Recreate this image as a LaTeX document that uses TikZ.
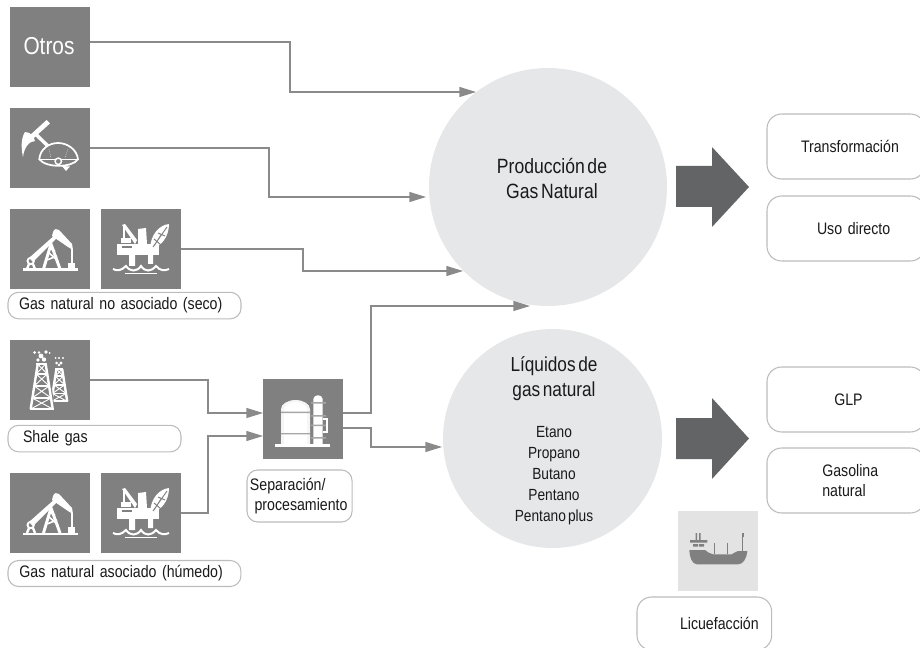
\documentclass[tikz,border=0pt]{standalone}
\usepackage{fontspec}
\setmainfont[FakeStretch=0.85,WordSpace=0.55]{Liberation Sans}
\usetikzlibrary{arrows.meta}
\definecolor{sq}{HTML}{808080}
\definecolor{linec}{HTML}{8A8A8A}
\definecolor{circ}{HTML}{E6E7E8}
\definecolor{bigarr}{HTML}{636466}
\definecolor{boxl}{HTML}{BCBCBC}
\definecolor{txt}{HTML}{1A1A1A}
\tikzset{
  every node/.style={outer sep=0pt},
  tile/.style={fill=sq,draw=none,minimum size=60pt,inner sep=0pt,anchor=north west},
  flow/.style={draw=linec,line width=1pt,-{Triangle[length=12.5pt,width=7.5pt,fill=linec]}},
  disc/.style={circle,fill=circ,draw=none,inner sep=0pt},
  pill/.style={rectangle,rounded corners=8pt,draw=boxl,line width=0.8pt,fill=white,anchor=north west,text=txt,font=\fontsize{12.5pt}{15.5pt}\selectfont,align=left,inner ysep=0pt},
  lbl/.style={text=txt,align=center,inner sep=0pt},
  wl/.style={draw=white,line width=1.9pt},
  wt/.style={draw=white,line width=0.9pt},
  pump/.pic={
    \fill[white] (12.5,59.5) rectangle (68,62);
    \fill[white] (43,23) .. controls (44,20) and (47,19) .. (49,21) -- (62,35) -- (63,41) -- (58,38) -- (42,27) -- cycle;
    \fill[white] (19,49) -- (46,25) -- (48,28) -- (23,53) -- cycle;
    \draw[wl,line width=2.2pt] (33.5,60) -- (41,35) -- (50,60);
    \draw[wt,line width=1.2pt] (37,51) -- (47,47) (38,43) -- (48,52) (39,39) -- (45,42);
    \draw[wt] (62,40) -- (62,54);
    \fill[white] (58.3,54) rectangle (65,59.5);
    \draw[wl,line width=1.4pt] (20.7,52) circle (3.2);
    \draw[wl,line width=1.8pt] (19,55) -- (17,60) (23,55) -- (25,60);
  },
  rig/.pic={
    \fill[white] (16,35) -- (58,35) -- (58,46) -- (16,46) -- cycle;
    \fill[sq] (21,37) rectangle (31,39);
    \fill[white] (28,46) rectangle (34,57) (47,46) rectangle (52,55);
    \fill[white] (37,20) -- (45,19) -- (46,35) -- (37,35) -- cycle;
    \fill[white] (21,16) -- (24,15) -- (36,31) -- (34,35) -- cycle;
    \draw[wt] (23,18) -- (23,30);
    \fill[white] (20,29) rectangle (30,34);
    \fill[white] (68,15) .. controls (58,16) and (49,26) .. (49,41) .. controls (60,38) and (68,28) .. (68,15) -- cycle;
    \draw[sq,line width=0.7pt] (66,18) -- (52,38) (57,24) -- (64,27) (53,30) -- (60,36) (53,37) -- (60,26);
    \draw[wl,line width=1.5pt] (12,60) .. controls (16,62) and (20,62) .. (25,57) .. controls (29,63) and (36,63) .. (40,57) .. controls (44,63) and (50,63) .. (55,57) .. controls (59,62) and (64,62) .. (68,60);
    \draw[wl,line width=1.2pt] (24,64.5) -- (56,64.5);
  },
  mine/.pic={
    \draw[white,line width=3.6pt] (38.3,13.7) -- (22,28.5);
    \fill[white] (15,24) .. controls (21,24) and (24,29) .. (25,33) .. controls (19,33) and (14,40) .. (13,49) .. controls (11,40) and (11,30) .. (15,24) -- cycle;
    \draw[white,line width=2.6pt] (25,25.5) -- (40,40);
    \fill[sq] (29,51.5) .. controls (30,41) and (39,35) .. (48,35) .. controls (58,35) and (67,42) .. (68,51.5) -- cycle;
    \draw[wl,line width=1.3pt] (29.3,51.3) .. controls (30,41) and (39,35) .. (48,35) .. controls (58,35) and (67,42) .. (68,51.3) .. controls (62,60) and (36,60) .. (29.3,51.3) -- cycle;
    \draw[wl,line width=1.1pt] (29.3,51.3) -- (68,51.3);
    \fill[sq] (48.3,53.3) circle (3.4);
    \draw[wl,line width=1.1pt] (48.3,53.3) circle (3.2);
    \draw[wt,line width=0.4pt,densely dotted] (39,41) -- (41,50) (58,41) -- (55,50);
    \fill[white] (52,58) -- (60,58.5) -- (56,63) -- cycle;
  },
  derrick/.pic={
    \draw[white,line width=1.8pt] (-4,0) -- (-11,45) (4,0) -- (11,45);
    \draw[white,line width=1.4pt] (-5.5,0) -- (5.5,0) (-6,10) -- (6,10) (-8,22) -- (8,22) (-10,34) -- (10,34) (-12,45) -- (12,45);
    \draw[white,line width=0.7pt] (-5.5,10) -- (7.5,22) (5.5,10) -- (-7.5,22) (-7.5,22) -- (9.5,34) (7.5,22) -- (-9.5,34) (-9.5,34) -- (11,45) (9.5,34) -- (-11,45) (-4,0) -- (5.5,10) (4,0) -- (-5.5,10);
  },
  shaleicon/.pic={
    \pic[scale=0.72] at (49.3,29) {derrick};
    \fill[sq] (24,24) -- (39,24) -- (44.5,69) -- (19,69) -- cycle;
    \pic at (31.7,24) {derrick};
    \fill[white] (24.5,12.5) circle (1.5) (29,12.5) circle (1.3) (36,12) circle (1.9) (31,16) circle (2.4) (34,19.5) circle (2.2) (28,20) circle (1.8) (39.5,13) circle (1);
    \fill[white] (45.5,18) circle (1) (49,18) circle (1.1) (53,18) circle (1.1) (46.5,23) circle (1.5) (51,23) circle (1.6) (49,25) circle (1.3);
  },
  plant/.pic={
    \fill[white!92!sq] (18,65) -- (18,30) .. controls (18,25) and (25,21) .. (32.5,21) .. controls (40,21) and (47,25) .. (47,30) -- (47,65) -- cycle;
    \fill[white] (21,65) -- (21,30) .. controls (22,26) and (27,23) .. (32.5,23) .. controls (38,23) and (43,26) .. (44,30) -- (44,65) -- cycle;
    \fill[sq!70!white] (18,32.5) rectangle (47,34) (18,54) rectangle (47,55.3);
    \fill[white] (50.3,65) -- (50.3,20) .. controls (51,15) and (59,15) .. (59.7,20) -- (59.7,65) -- cycle;
    \fill[sq!70!white] (48,23) rectangle (63,24.5) (48,36) rectangle (63,37.5) (48,45.5) rectangle (63,47) (48,58) rectangle (63,59.5);
    \draw[white,line width=0.9pt] (59.7,40) -- (64,40) -- (64,53) -- (59.7,53);
    \fill[white] (12,65) rectangle (67,68);
  },
  ship/.pic={
    \fill[sq] (11.3,39) -- (27,39) .. controls (30,41) and (32,43.3) .. (35.3,43.3) -- (53.7,43.3) .. controls (56,43.3) and (57,40) .. (60,40) -- (69.3,40) .. controls (69,47) and (65,53.3) .. (60.3,53.3) -- (18.7,53.3) .. controls (14,53) and (11.5,46) .. (11.3,39) -- cycle;
    \fill[sq] (12,29) rectangle (29.3,31.7) (15,33) rectangle (20,35.5) (21,33) rectangle (26,35.5) (17.5,22) rectangle (19,29) (21,22) rectangle (22.5,29);
    \draw[sq,line width=0.45pt] (36.3,32) -- (36.3,43.3) (49.3,32) -- (49.3,43.3) (64.7,26) -- (64.7,40);
    \fill[sq] (64,22) rectangle (65.6,26);
  },
  rbox/.style={pill,rounded corners=11pt,inner xsep=4.5pt,text width=109.5pt,minimum height=48.75pt}
}
\newcommand{\pad}[1]{\hspace*{#1}}
\newcommand{\dn}[1]{\raisebox{-2.2pt}{#1}}
\begin{document}
\begin{tikzpicture}[x=0.75pt,y=-0.75pt]
\useasboundingbox (0,0) rectangle (920,648);
\clip (0,0) rectangle (920,648);
% discs
\node[disc,minimum size=178.5pt] (prod) at (548,187) {};
\node[disc,minimum size=164.25pt] (liq) at (552.5,438.5) {};
\node[lbl,font=\fontsize{15.5pt}{18.75pt}\selectfont] (prodt) at (552,178.5) {Producción de\\Gas Natural};
\node[lbl,font=\fontsize{15.2pt}{18.75pt}\selectfont] (liqt) at (554,379) {Líquidos de\\gas natural};
\node[lbl,font=\fontsize{12.1pt}{15.75pt}\selectfont] (liqs) at (554,475.5) {Etano\\Propano\\Butano\\Pentano\\Pentano plus};
% tiles
\node[tile,text=white,font=\fontsize{18.4pt}{20pt}\selectfont] (otros) at (10,7) {\hspace*{-1.5pt}\raisebox{1.5pt}{Otros}};
\node[tile] (minet) at (10,108) {};
\node[tile] (p1) at (10,209) {};
\node[tile] (r1) at (101,209) {};
\node[tile] (sh) at (10,340) {};
\node[tile] (p2) at (10,473) {};
\node[tile] (r2) at (101,473) {};
\node[tile] (sep) at (263,379) {};
\node[rectangle,fill=black!11,minimum size=60pt,inner sep=0pt,anchor=north west] (shipt) at (678,511) {};
\pic at (minet.north west) {mine};
\pic at (p1.north west) {pump};
\pic at (r1.north west) {rig};
\pic at (sh.north west) {shaleicon};
\pic at (p2.north west) {pump};
\pic at (r2.north west) {rig};
\pic at (sep.north west) {plant};
\pic at (shipt.north west) {ship};
% labels
\node[pill,inner xsep=8.25pt,text width=158.25pt,minimum height=19.9pt] (l1) at (8,292.3) {\dn{Gas natural no asociado (seco)}};
\node[pill,inner xsep=11.25pt,text width=107.25pt,minimum height=19.9pt] (l2) at (8,425.3) {\dn{Shale gas}};
\node[pill,inner xsep=8.6pt,text width=157.5pt,minimum height=19.5pt] (l3) at (8,560.5) {\dn{Gas natural asociado (húmedo)}};
\node[pill,inner xsep=2.2pt,text width=74.4pt,minimum height=39pt] (l4) at (247,470) {Separación/\\\hspace*{3.5pt}procesamiento};
% right boxes
\node[rbox] (b1) at (767,114) {\pad{21pt}Transformación};
\node[rbox] (b2) at (767,196) {\pad{33pt}Uso directo};
\node[rbox] (b3) at (767,367) {\pad{46pt}GLP};
\node[rbox] (b4) at (767,448) {\pad{37pt}Gasolina\\\pad{37pt}natural};
\node[pill,rounded corners=11pt,inner xsep=32.25pt,text width=36.5pt,minimum height=39.75pt] (b5) at (637,597) {Licuefacción};
% helper coordinates
\coordinate (o0) at (otros.east |- 0,42);
\coordinate (o1) at (476,92);
\coordinate (m1) at (426,197);
\coordinate (r1e) at (463,271);
\coordinate (s0a) at (sep.east |- 0,413);
\coordinate (s0b) at (sep.east |- 0,428);
\coordinate (s1a) at (530,306);
\coordinate (s1b) at (442,447);
\coordinate (sia) at (sep.west |- 0,413);
\coordinate (sib) at (sep.west |- 0,436);
% connectors
\draw[flow] (o0) -- (290,42) -- (290,92) -- (o1);
\draw[flow] (minet.east) -- (269,148) -- (269,197) -- (m1);
\draw[flow] (r1.east) -- (303,249) -- (303,271) -- (r1e);
\draw[flow] (s0a) -- (371,413) -- (371,306) -- (s1a);
\draw[flow] (s0b) -- (371,428) -- (371,447) -- (s1b);
\draw[flow] (sh.east) -- (208,380) -- (208,413) -- (sia);
\draw[flow] (r2.east) -- (208,513) -- (208,436) -- (sib);
% big arrows
\fill[bigarr] (676,166) -- (712,166) -- (712,147) -- (749,187) -- (712,227) -- (712,207) -- (676,207) -- cycle;
\fill[bigarr] (676,418) -- (712,418) -- (712,398) -- (749,438.5) -- (712,479) -- (712,459) -- (676,459) -- cycle;
\end{tikzpicture}
\end{document}
